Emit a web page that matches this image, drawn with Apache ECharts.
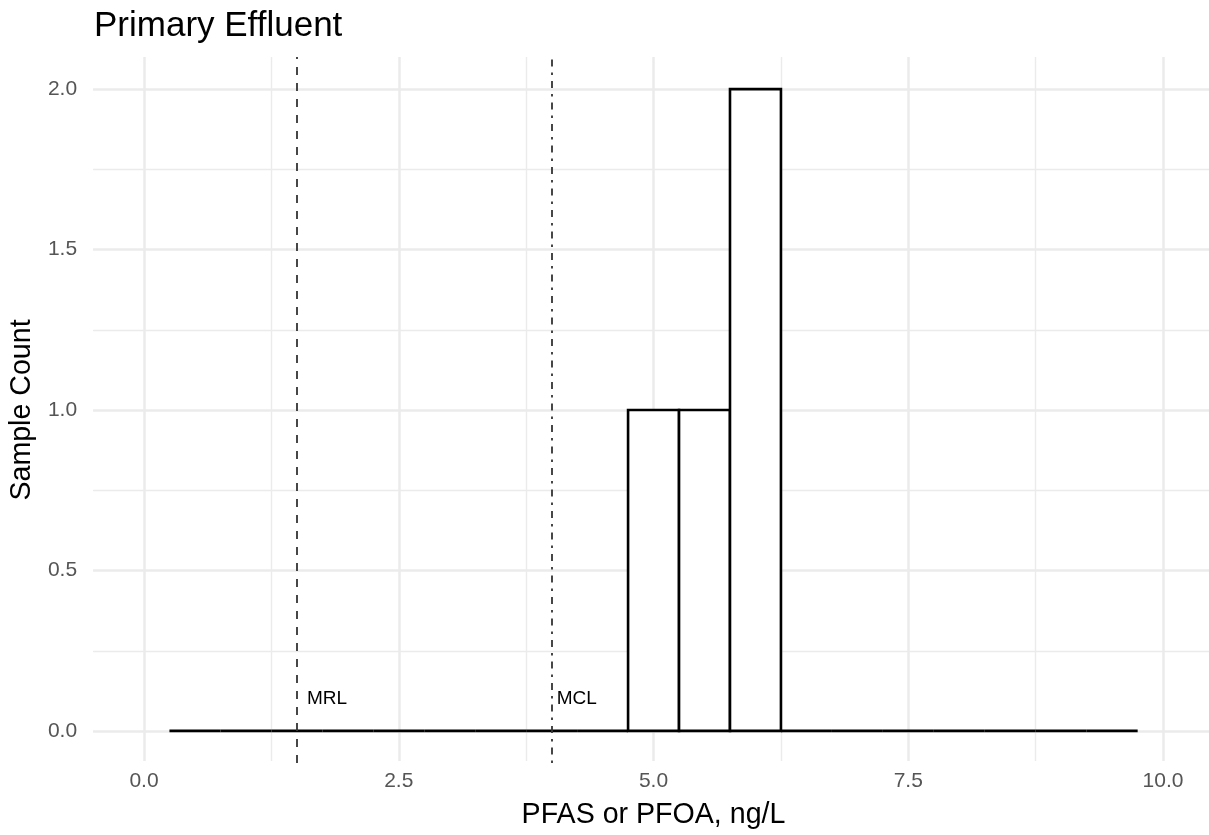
<!DOCTYPE html>
<html>
<head>
<meta charset="utf-8">
<script src="https://cdn.jsdelivr.net/npm/echarts@6/dist/echarts.min.js"></script>
<style>
html,body{margin:0;padding:0;background:#fff;}
#chart{width:1209px;height:835px;}
</style>
</head>
<body>
<div id="chart"></div>
<script>
// ---- data ----
var titleText = 'Primary Effluent';
var xAxisTitle = 'PFAS or PFOA, ng/L';
var yAxisTitle = 'Sample Count';
var binEdges = [0.25, 0.75, 1.25, 1.75, 2.25, 2.75, 3.25, 3.75, 4.25, 4.75, 5.25, 5.75, 6.25, 6.75, 7.25, 7.75, 8.25, 8.75, 9.25, 9.75];
var binCounts = [0, 0, 0, 0, 0, 0, 0, 0, 0, 1, 1, 2, 0, 0, 0, 0, 0, 0, 0];
var refLineNames = ['MRL', 'MCL'];
var refLineValues = [1.5, 4.0];
var refLabelX = [1.6, 4.05];
var refLabelY = [0.1, 0.1];
var xTickMin = 0, xTickMax = 10, xTickStep = 2.5;
var yTickMin = 0, yTickMax = 2, yTickStep = 0.5;
var xRange = [-0.5, 10.45];
var yRange = [-0.1, 2.1];

var FONT = 'Liberation Sans, Arial, Helvetica, sans-serif';
var histData = [];
for (var i = 0; i < binCounts.length; i++) {
  histData.push([binEdges[i], binEdges[i + 1], binCounts[i]]);
}
var labelData = refLineNames.map(function (n, i) { return [refLabelX[i], refLabelY[i], n]; });
var dashStyles = [[8, 8], [2.5, 6, 7, 6]];

var chart = echarts.init(document.getElementById('chart'), null, {renderer: 'canvas'});
var gridColor = '#EBEBEB';
var option = {
  animation: false,
  backgroundColor: '#fff',
  title: {
    text: titleText, left: 94, top: 9, padding: 0,
    textStyle: {fontFamily: FONT, fontSize: 35, fontWeight: 'normal', color: '#000'}
  },
  grid: [
    {left: 93, right: 0, top: 57, bottom: 72},
    {left: 144, right: 46, top: 57, bottom: 72},
    {left: 93, right: 0, top: 89, bottom: 104}
  ],
  xAxis: [
    {gridIndex: 0, type: 'value', min: xRange[0], max: xRange[1], show: false},
    {gridIndex: 1, type: 'value', min: xTickMin, max: xTickMax, interval: xTickStep,
      name: xAxisTitle, nameLocation: 'middle', nameGap: 40,
      nameTextStyle: {fontFamily: FONT, fontSize: 28.6, color: '#000'},
      axisLine: {show: false}, axisTick: {show: false},
      axisLabel: {fontFamily: FONT, fontSize: 21, color: '#555', margin: 10,
        formatter: function (v) { return v.toFixed(1); }},
      splitLine: {show: true, lineStyle: {color: gridColor, width: 2.5}},
      minorTick: {show: false, splitNumber: 2},
      minorSplitLine: {show: true, lineStyle: {color: gridColor, width: 1.4}}
    },
    {gridIndex: 2, type: 'value', min: 0, max: 1, show: false}
  ],
  yAxis: [
    {gridIndex: 0, type: 'value', min: yRange[0], max: yRange[1], show: false},
    {gridIndex: 1, type: 'value', min: 0, max: 1, show: false},
    {gridIndex: 2, type: 'value', min: yTickMin, max: yTickMax, interval: yTickStep,
      name: yAxisTitle, nameLocation: 'middle', nameGap: 51,
      nameTextStyle: {fontFamily: FONT, fontSize: 28.6, color: '#000'},
      axisLine: {show: false}, axisTick: {show: false},
      axisLabel: {fontFamily: FONT, fontSize: 21, color: '#555', margin: 16,
        formatter: function (v) { return v.toFixed(1); }},
      splitLine: {show: true, lineStyle: {color: gridColor, width: 2.5}},
      minorTick: {show: false, splitNumber: 2},
      minorSplitLine: {show: true, lineStyle: {color: gridColor, width: 1.4}}
    }
  ],
  series: [
    {
      type: 'custom', xAxisIndex: 0, yAxisIndex: 0, data: histData, z: 3,
      renderItem: function (params, api) {
        var p0 = api.coord([api.value(0), api.value(2)]);
        var p1 = api.coord([api.value(1), 0]);
        return {
          type: 'rect',
          shape: {x: p0[0], y: p0[1], width: p1[0] - p0[0], height: p1[1] - p0[1]},
          style: {fill: '#fff', stroke: '#000', lineWidth: 2.6, lineJoin: 'miter'}
        };
      }
    },
    {
      type: 'line', xAxisIndex: 0, yAxisIndex: 0, data: [], z: 4,
      markLine: {
        silent: true, symbol: ['none', 'none'], animation: false,
        label: {show: false},
        data: refLineValues.map(function (v, i) {
          return {xAxis: v, lineStyle: {color: '#333', width: 1.8, type: dashStyles[i]}};
        })
      }
    },
    {
      type: 'custom', xAxisIndex: 0, yAxisIndex: 0, data: labelData, z: 5,
      renderItem: function (params, api) {
        var p = api.coord([api.value(0), api.value(1)]);
        return {
          type: 'text', x: p[0], y: p[1],
          style: {text: labelData[params.dataIndex][2], fill: '#000',
            fontFamily: FONT, fontSize: 19, align: 'left', verticalAlign: 'middle'}
        };
      }
    }
  ]
};
chart.setOption(option);
</script>
</body>
</html>
